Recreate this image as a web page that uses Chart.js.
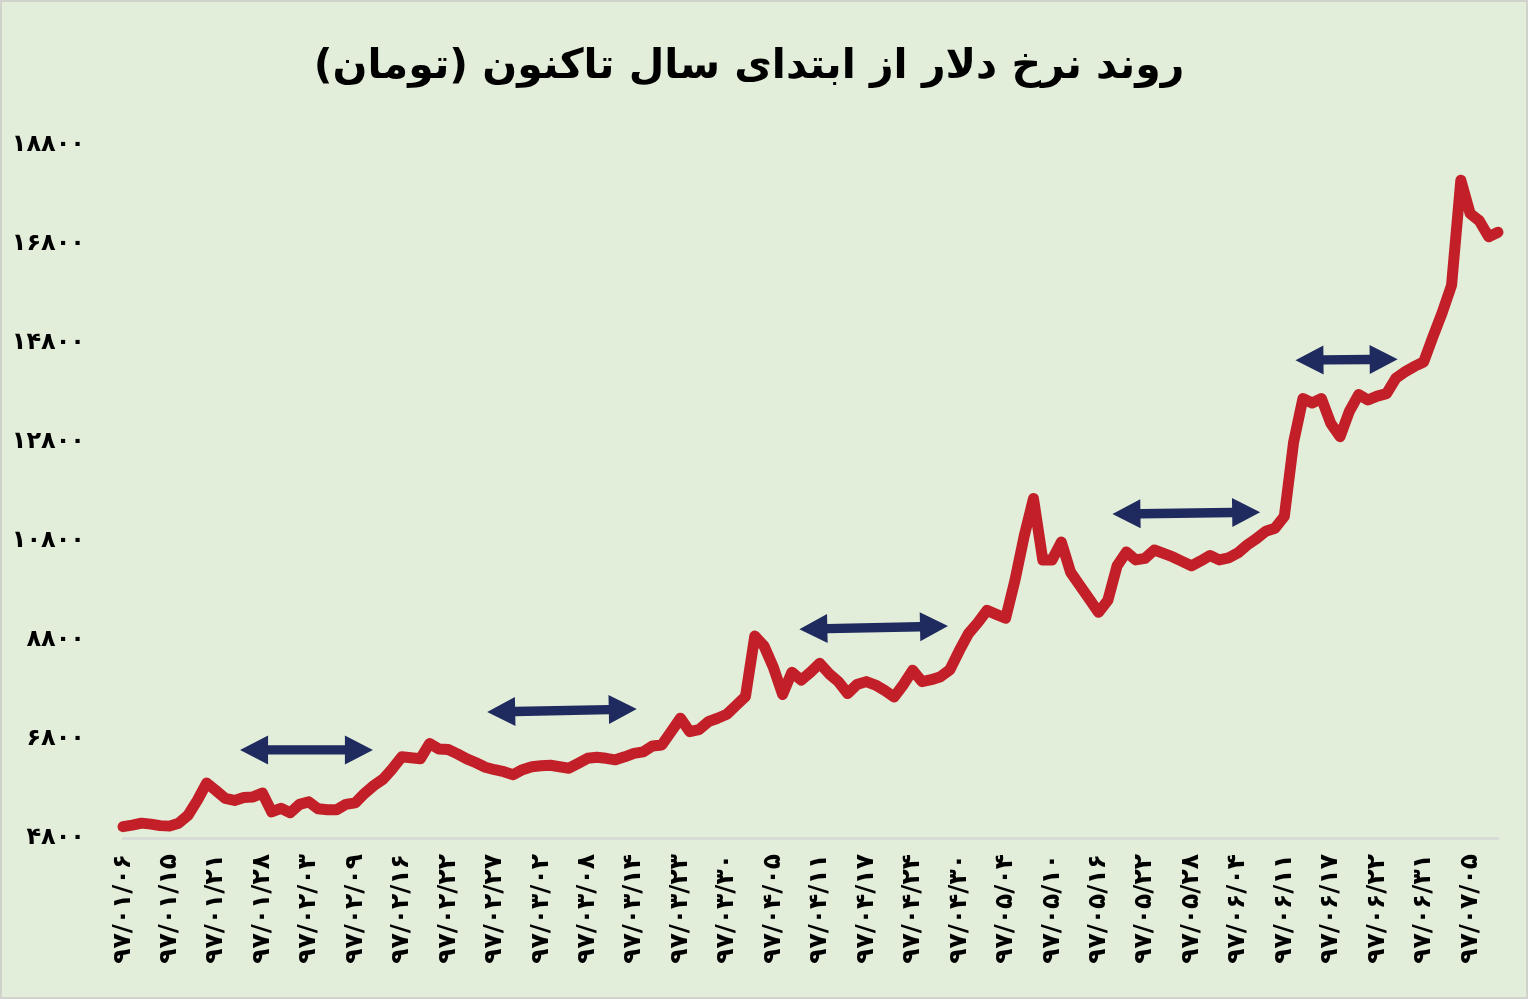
<!DOCTYPE html>
<html lang="fa">
<head>
<meta charset="utf-8">
<title>روند نرخ دلار از ابتدای سال تاکنون</title>
<script src="https://cdn.jsdelivr.net/npm/chart.js@4.4.1/dist/chart.umd.min.js"></script>
<style>
  html, body { margin: 0; padding: 0; background: #e2edda; }
  #wrap { position: relative; width: 1528px; height: 999px; }
</style>
</head>
<body>
<div id="wrap"><canvas id="chart"></canvas></div>
<script>
// x axis: one label every 5 trading days
const tickDates = [
  "۹۷/۰۱/۰۶", "۹۷/۰۱/۱۵", "۹۷/۰۱/۲۱", "۹۷/۰۱/۲۸", "۹۷/۰۲/۰۳", "۹۷/۰۲/۰۹",
  "۹۷/۰۲/۱۶", "۹۷/۰۲/۲۲", "۹۷/۰۲/۲۷", "۹۷/۰۳/۰۲", "۹۷/۰۳/۰۸", "۹۷/۰۳/۱۴",
  "۹۷/۰۳/۲۳", "۹۷/۰۳/۳۰", "۹۷/۰۴/۰۵", "۹۷/۰۴/۱۱", "۹۷/۰۴/۱۷", "۹۷/۰۴/۲۴",
  "۹۷/۰۴/۳۰", "۹۷/۰۵/۰۴", "۹۷/۰۵/۱۰", "۹۷/۰۵/۱۶", "۹۷/۰۵/۲۲", "۹۷/۰۵/۲۸",
  "۹۷/۰۶/۰۴", "۹۷/۰۶/۱۱", "۹۷/۰۶/۱۷", "۹۷/۰۶/۲۲", "۹۷/۰۶/۳۱", "۹۷/۰۷/۰۵"
];
const labelStep = 5;

// dollar rate (toman), one value per trading day
const dollarRate = [
  5030, 5060, 5100, 5080, 5050, 5040, 5100, 5260, 5560, 5910,
  5760, 5600, 5560, 5620, 5630, 5710, 5330, 5400, 5310, 5480,
  5530, 5390, 5370, 5370, 5480, 5510, 5700, 5860, 5990, 6200,
  6440, 6420, 6400, 6710, 6600, 6590, 6500, 6400, 6320, 6230,
  6180, 6140, 6080, 6180, 6240, 6260, 6270, 6240, 6210, 6310,
  6410, 6430, 6410, 6380, 6440, 6510, 6540, 6660, 6680, 6950,
  7220, 6950, 6990, 7150, 7220, 7300, 7480, 7660, 8880, 8680,
  8250, 7700, 8150, 7990, 8150, 8330, 8120, 7960, 7720, 7900,
  7960, 7890, 7780, 7650, 7900, 8190, 7960, 8000, 8060, 8200,
  8580, 8930, 9150, 9400, 9320, 9240, 10000, 10900, 11660, 10420,
  10420, 10780, 10170, 9900, 9630, 9360, 9600, 10300, 10580, 10420,
  10450, 10620, 10550, 10480, 10390, 10300, 10400, 10510, 10420, 10460,
  10560, 10720, 10850, 11000, 11060, 11300, 12800, 13680, 13590, 13680,
  13180, 12910, 13420, 13760, 13650, 13730, 13780, 14090, 14220, 14330,
  14420, 14930, 15420, 15970, 18090, 17420, 17270, 16950, 17040
];

// y axis ticks
const yMin = 4800;
const yMax = 18800;
const yStep = 2000;

// sideways periods marked with arrows: [from index, to index, rate at start, rate at end]
const arrowFrom = [12.6, 39.2, 72.8, 106.5, 126.2];
const arrowTo = [26.9, 55.3, 88.8, 122.4, 137.2];
const arrowRateFrom = [6580, 7345, 9020, 11345, 14456];
const arrowRateTo = [6580, 7406, 9082, 11385, 14476];

const faDigits = "۰۱۲۳۴۵۶۷۸۹";
const toFa = s => String(s).replace(/\d/g, d => faDigits[d]);

const FONT = "'DejaVu Sans', sans-serif";

// light frame round the picture
const framePlugin = {
  id: "frame",
  beforeDraw(chart) {
    const ctx = chart.ctx;
    ctx.save();
    ctx.strokeStyle = "#cfd3cc";
    ctx.lineWidth = 2;
    ctx.strokeRect(1, 1, chart.width - 2, chart.height - 2);
    ctx.restore();
  }
};

// double headed arrows
function drawArrow(ctx, x1, y1, x2, y2) {
  const len = Math.hypot(x2 - x1, y2 - y1);
  const ux = (x2 - x1) / len, uy = (y2 - y1) / len;
  const nx = -uy, ny = ux;
  const head = 28, hw = 14.5, sw = 4.7;
  const pts = [
    [0, 0], [head, hw], [head, sw], [len - head, sw], [len - head, hw],
    [len, 0], [len - head, -hw], [len - head, -sw], [head, -sw], [head, -hw]
  ];
  ctx.beginPath();
  pts.forEach(([s, t], i) => {
    const px = x1 + ux * s + nx * t, py = y1 + uy * s + ny * t;
    if (i === 0) ctx.moveTo(px, py); else ctx.lineTo(px, py);
  });
  ctx.closePath();
  ctx.fill();
}

const arrowPlugin = {
  id: "arrows",
  afterDatasetsDraw(chart) {
    const ctx = chart.ctx, xs = chart.scales.x, ys = chart.scales.y;
    ctx.save();
    ctx.fillStyle = "#1f2a5f";
    arrowFrom.forEach((from, i) => {
      drawArrow(ctx,
        xs.getPixelForValue(from), ys.getPixelForValue(arrowRateFrom[i]),
        xs.getPixelForValue(arrowTo[i]), ys.getPixelForValue(arrowRateTo[i]));
    });
    ctx.restore();
  }
};

new Chart(document.getElementById("chart"), {
  type: "line",
  data: {
    labels: dollarRate.map((_, i) => i),
    datasets: [{
      data: dollarRate,
      borderColor: "#c21f28",
      borderWidth: 11,
      borderJoinStyle: "round",
      borderCapStyle: "round",
      pointRadius: 0,
      tension: 0,
      clip: false
    }]
  },
  options: {
    responsive: true,
    maintainAspectRatio: false,
    animation: false,
    layout: {
      padding: { left: 0, right: 30, top: 0, bottom: 0 }
    },
    plugins: {
      legend: { display: false },
      tooltip: { enabled: false },
      title: {
        display: true,
        text: "روند نرخ دلار از ابتدای سال تاکنون (تومان)\u200F",
        color: "#000",
        font: { family: FONT, size: 41, weight: "bold", lineHeight: 1.2 },
        padding: { top: 43, bottom: 53 }
      }
    },
    scales: {
      x: {
        type: "category",
        offset: false,
        grid: { display: false, drawTicks: false },
        border: { display: true, color: "#d8dcd6", width: 3 },
        ticks: {
          autoSkip: false,
          minRotation: 90,
          maxRotation: 90,
          padding: 16,
          color: "#000",
          font: { family: FONT, size: 25, weight: "bold" },
          callback: (val, i) => (i % labelStep === 0 ? tickDates[i / labelStep] : null)
        },
        afterFit: scale => { scale.height = 161; }
      },
      y: {
        min: yMin,
        max: yMax,
        grid: { display: false, drawTicks: false },
        border: { display: false },
        ticks: {
          stepSize: yStep,
          padding: 38,
          color: "#000",
          font: { family: FONT, size: 24, weight: "bold" },
          callback: v => toFa(v)
        },
        afterFit: scale => { scale.width = 123; }
      }
    }
  },
  plugins: [framePlugin, arrowPlugin]
});
</script>
</body>
</html>
